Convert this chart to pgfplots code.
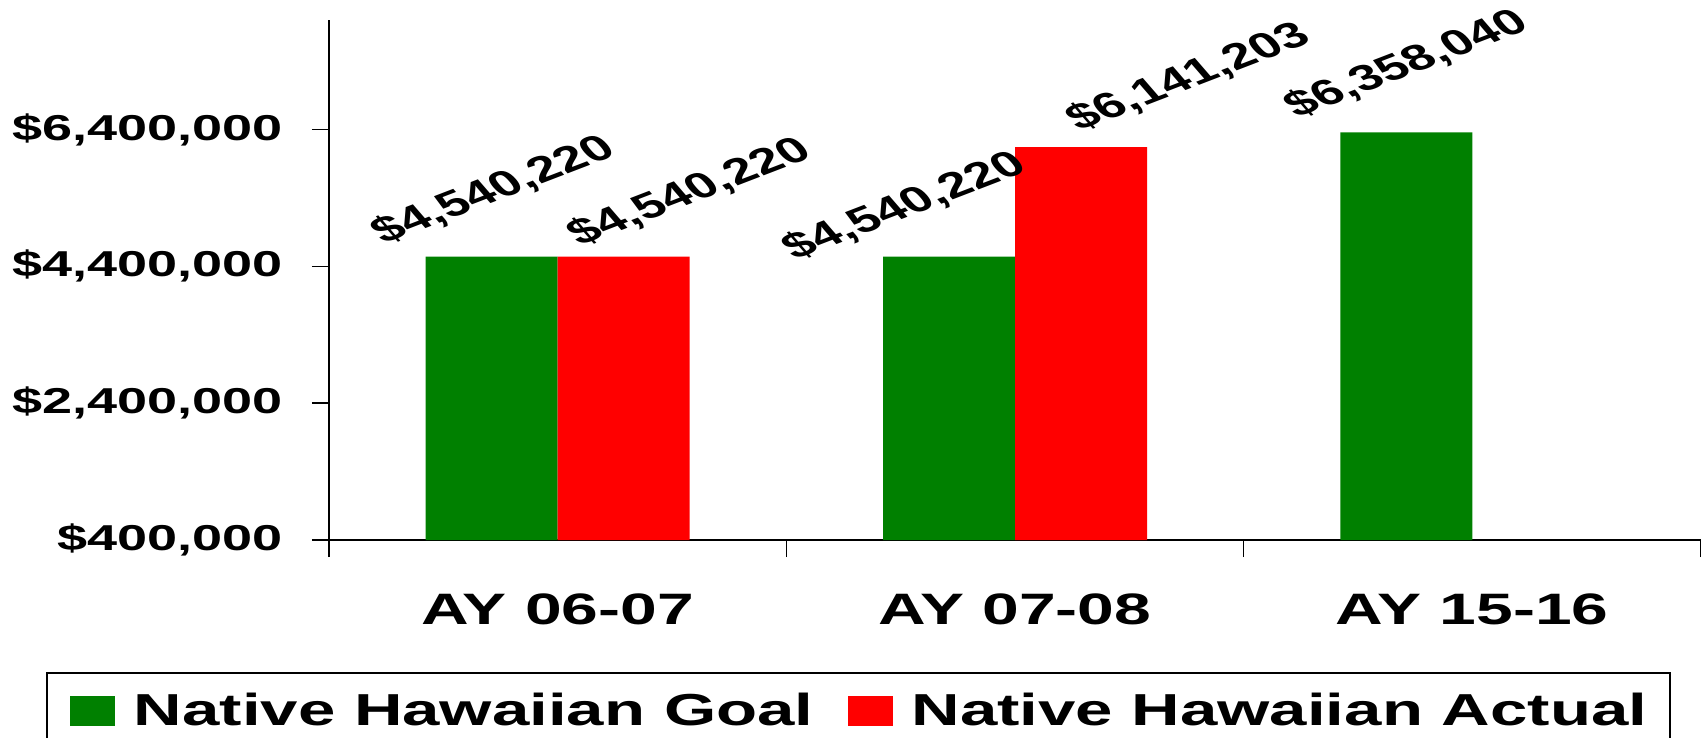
\documentclass[border=0pt]{standalone}
\usepackage{fontspec}
\setmainfont{Liberation Sans}
\usepackage{graphicx}
\usepackage{pgfplots}
\usepackage{pgfplotstable}
\pgfplotsset{compat=1.18}
\newcommand\sx[1]{\scalebox{1.5}[1]{#1}}
\definecolor{ggreen}{RGB}{0,128,0}
\definecolor{rred}{RGB}{255,0,0}
\pgfplotstableread{
x y dx dy lab
0 4540220 1 3.5 4,540,220
1 4540220 -22 -4.5 4,540,220
2 6358040 0 4.5 6,358,040
}\goal
\pgfplotstableread{
x y dx dy lab
0 4540220 33 2.5 4,540,220
1 6141203 54 5 6,141,203
}\actual
\begin{document}
\begin{tikzpicture}
\begin{axis}[
  at={(164.5pt,-270pt)}, anchor=south west,
  scale only axis, width=686pt, height=260pt,
  xmin=-0.5, xmax=2.5, ymin=400000, ymax=8000000,
  axis x line=bottom, axis y line=left,
  axis line style={-, line width=0.8pt, black},
  tick align=outside, major tick length=8.5pt,
  tick style={line width=0.8pt, black},
  scaled y ticks=false,
  xtick={-0.5,0.5,1.5,2.5},
  x tick label as interval,
  xticklabels={\sx{AY 06-07},\sx{AY 07-08},\sx{AY 15-16},{}},
  xticklabel style={font=\fontsize{22}{26}\selectfont\bfseries, anchor=north, inner sep=0pt, yshift=-18pt},
  ytick={400000,2400000,4400000,6400000},
  yticklabels={\sx{\$400,000},\sx{\$2,400,000},\sx{\$4,400,000},\sx{\$6,400,000}},
  yticklabel style={font=\fontsize{18}{21}\selectfont\bfseries, anchor=east, inner sep=0pt, xshift=-14.5pt},
  ybar=0pt, bar width=66pt,
  point meta=explicit symbolic,
  visualization depends on={\thisrow{dx}\as\dx},
  visualization depends on={\thisrow{dy}\as\dy},
  nodes near coords={\sx{\rotatebox{30}{\$\pgfplotspointmeta}}},
  every node near coord/.append style={font=\fontsize{18}{21}\selectfont\bfseries, black, anchor=south, inner sep=0pt, xshift=\dx pt, yshift=\dy pt},
  legend style={at={(-0.20627,-0.25385)}, anchor=north west, draw=black, line width=0.8pt,
    inner xsep=11.5pt, inner ysep=10pt, font=\fontsize{22.4}{26}\selectfont\bfseries,
    nodes={inner sep=0pt},
    /tikz/every odd column/.append style={column sep=9.5pt},
    /tikz/every even column/.append style={column sep=17pt}},
  legend columns=2,
  legend image code/.code={\fill[#1] (0pt,-7.5pt) rectangle (22.5pt,7.5pt);},
]
\addplot[fill=ggreen, draw=none] table[x=x, y=y, meta=lab]{\goal};
\addlegendentry{\sx{Native Hawaiian Goal}}
\addplot[fill=rred, draw=none] table[x=x, y=y, meta=lab]{\actual};
\addlegendentry{\sx{Native Hawaiian Actual}}
\end{axis}
\pgfresetboundingbox
\path[use as bounding box] (0,0) rectangle (850.5pt,-369pt);
\end{tikzpicture}
\end{document}
